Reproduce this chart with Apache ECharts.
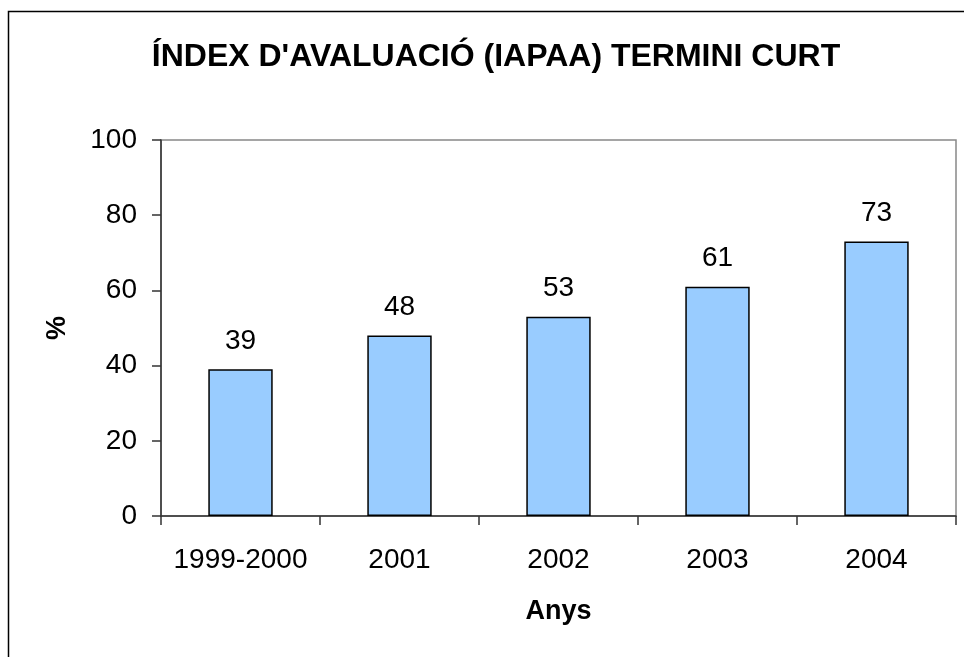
<!DOCTYPE html>
<html>
<head>
<meta charset="utf-8">
<script src="https://cdn.jsdelivr.net/npm/echarts@6/dist/echarts.min.js"></script>
<style>
html,body{margin:0;padding:0;background:#fff;}
#c{width:964px;height:657px;}
</style>
</head>
<body>
<div id="c"></div>
<script>
const categories = ['1999-2000', '2001', '2002', '2003', '2004'];
const values = [39, 48, 53, 61, 73];
const yTicks = [0, 20, 40, 60, 80, 100];

const chart = echarts.init(document.getElementById('c'));
const font = 'Liberation Sans, Arial, sans-serif';
chart.setOption({
  animation: false,
  backgroundColor: '#fff',
  title: {
    text: "ÍNDEX D'AVALUACIÓ (IAPAA) TERMINI CURT",
    left: 491, top: 36, textAlign: 'center',
    textStyle: {fontFamily: font, fontSize: 32, fontWeight: 'bold', color: '#000'}
  },
  graphic: [{
    type: 'rect', shape: {x: 8.5, y: 11.5, width: 1000, height: 700},
    style: {fill: 'none', stroke: '#000', lineWidth: 1.5}, silent: true
  }],
  grid: {left: 161, right: 8, top: 140, bottom: 141, show: true, borderColor: '#888', borderWidth: 1.5},
  xAxis: {
    type: 'category', data: categories,
    name: 'Anys', nameLocation: 'middle', nameGap: 82,
    nameTextStyle: {fontFamily: font, fontSize: 27, fontWeight: 'bold', color: '#000'},
    axisLine: {lineStyle: {color: '#333', width: 1.5}},
    axisTick: {show: true, interval: 0, length: 9, lineStyle: {color: '#333', width: 1.5}},
    axisLabel: {interval: 0, hideOverlap: false, fontFamily: font, fontSize: 28, color: '#000', margin: 30}
  },
  yAxis: {
    type: 'value', min: 0, max: 100, interval: 20,
    name: '%', nameLocation: 'middle', nameGap: 90, nameRotate: 90,
    nameTextStyle: {fontFamily: font, fontSize: 27, fontWeight: 'bold', color: '#000'},
    axisLine: {show: true, lineStyle: {color: '#333', width: 1.5}},
    axisTick: {show: true, length: 9, lineStyle: {color: '#333', width: 1.5}},
    splitLine: {show: false},
    axisLabel: {fontFamily: font, fontSize: 28, color: '#000', margin: 24,
      formatter: v => yTicks.includes(v) ? String(v) : ''}
  },
  series: [{
    type: 'bar', data: values, barWidth: '40.5%',
    itemStyle: {color: '#99CCFF', borderColor: '#000', borderWidth: 1.5},
    label: {show: true, position: 'top', distance: 14,
      fontFamily: font, fontSize: 28, color: '#000'}
  }]
});
</script>
</body>
</html>
